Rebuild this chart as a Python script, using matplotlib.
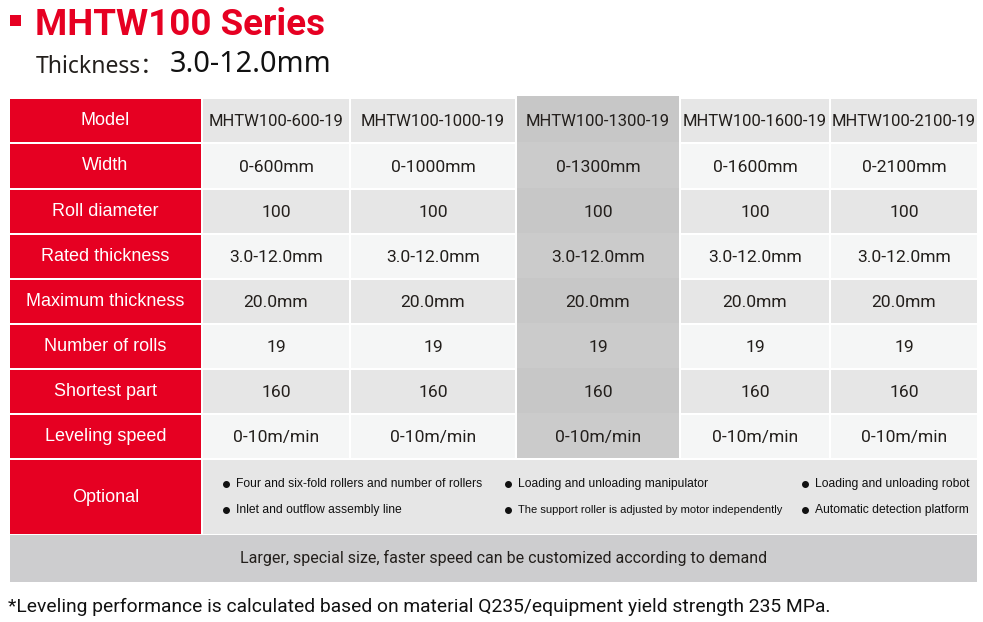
import matplotlib.pyplot as plt
from matplotlib.patches import Rectangle

# table content
models = ['MHTW100-600-19', 'MHTW100-1000-19', 'MHTW100-1300-19',
          'MHTW100-1600-19', 'MHTW100-2100-19']
row_labels = ['Width', 'Roll diameter', 'Rated thickness', 'Maximum thickness',
              'Number of rolls', 'Shortest part', 'Leveling speed']
width = ['0-600mm', '0-1000mm', '0-1300mm', '0-1600mm', '0-2100mm']
roll_diameter = ['100', '100', '100', '100', '100']
rated_thickness = ['3.0-12.0mm'] * 5
max_thickness = ['20.0mm'] * 5
n_rolls = ['19'] * 5
shortest_part = ['160'] * 5
speed = ['0-10m/min'] * 5
optional = [['Four and six-fold rollers and number of rollers',
             'Inlet and outflow assembly line'],
            ['Loading and unloading manipulator',
             'The support roller is adjusted by motor independently'],
            ['Loading and unloading robot',
             'Automatic detection platform']]
highlight = 2

RED = '#e60022'
GREY = '#e6e6e6'
LIGHT = '#f5f6f6'
HGREY = ['#c7c7c7', '#cbcbcb']
TXT = '#231f1c'

# layout in pixels
col_x = [(10, 201), (203, 349), (351, 515), (517, 679), (681, 829), (831, 977)]
row_y = [(99, 142), (144, 188), (190, 233), (235, 278), (280, 323),
         (325, 368), (370, 413), (415, 458)]
opt_y = (460, 534)
foot_y = (535, 582)

fig = plt.figure(figsize=(9.83, 6.22), dpi=100)
ax = fig.add_axes([0, 0, 1, 1])
ax.set_xlim(0, 983)
ax.set_ylim(622, 0)
ax.axis('off')


def box(x0, x1, y0, y1, color):
    ax.add_patch(Rectangle((x0, y0), x1 - x0, y1 - y0, color=color, lw=0))


# title
box(10, 21, 15, 26, RED)
ax.text(35, 25, 'MHTW100 Series', color=RED, fontsize=26.5, fontweight='bold',
        family='Roboto', va='center', ha='left')
ax.text(36, 67, 'Thickness\uff1a', color=TXT, fontsize=16.5,
        family=['Noto Sans', 'Noto Sans CJK SC'], va='center', ha='left')
ax.text(170, 65, '3.0-12.0mm', color='#111111', fontsize=20.8,
        family='Noto Sans', va='center', ha='left')

values = [width, roll_diameter, rated_thickness, max_thickness, n_rolls,
          shortest_part, speed]
all_rows = [('Model', models)] + list(zip(row_labels, values))

for i, (label, vals) in enumerate(all_rows):
    y0, y1 = row_y[i]
    box(col_x[0][0], col_x[0][1], y0, y1, RED)
    ax.text(sum(col_x[0]) / 2, (y0 + y1) / 2, label, color='white',
            fontsize=13, family='Liberation Sans', ha='center', va='center')
    for j, v in enumerate(vals):
        x0, x1 = col_x[j + 1]
        if j == highlight:
            top = 96 if i == 0 else y0 - 2
            box(x0, x1, top, y1, HGREY[i % 2])
        else:
            box(x0, x1, y0, y1, GREY if i % 2 == 0 else LIGHT)
        ax.text((x0 + x1) / 2, (y0 + y1) / 2 + 1, v, family='Roboto',
                fontsize=12 if i == 0 else 12.6, color=TXT,
                ha='center', va='center')

# optional row
box(col_x[0][0], col_x[0][1], opt_y[0], opt_y[1], RED)
ax.text(sum(col_x[0]) / 2, sum(opt_y) / 2, 'Optional', color='white',
        fontsize=13, family='Liberation Sans', ha='center', va='center')
box(col_x[1][0], col_x[5][1], opt_y[0], opt_y[1], GREY)
bullet_x = [226, 508, 805]
line_y = [484, 510]
for k, items in enumerate(optional):
    for m, item in enumerate(items):
        size = 8.0 if item.startswith('The support') else 8.7
        ax.plot(bullet_x[k], line_y[m], 'o', color='#111111', ms=4)
        ax.text(bullet_x[k] + 10, line_y[m], item, color='#111111',
                fontsize=size, family='Liberation Sans', ha='left',
                va='center')

# footer
box(10, 977, foot_y[0], foot_y[1], '#cdcdcf')
ax.text(504, 558, 'Larger, special size, faster speed can be customized '
        'according to demand', family='Roboto', fontsize=11.5, color=TXT,
        ha='center', va='center')
ax.text(8, 607, '*Leveling performance is calculated based on material '
        'Q235/equipment yield strength 235 MPa.', family='Roboto',
        fontsize=13.9, color='#111111', ha='left', va='center')

fig.savefig('out.png', dpi=100)
